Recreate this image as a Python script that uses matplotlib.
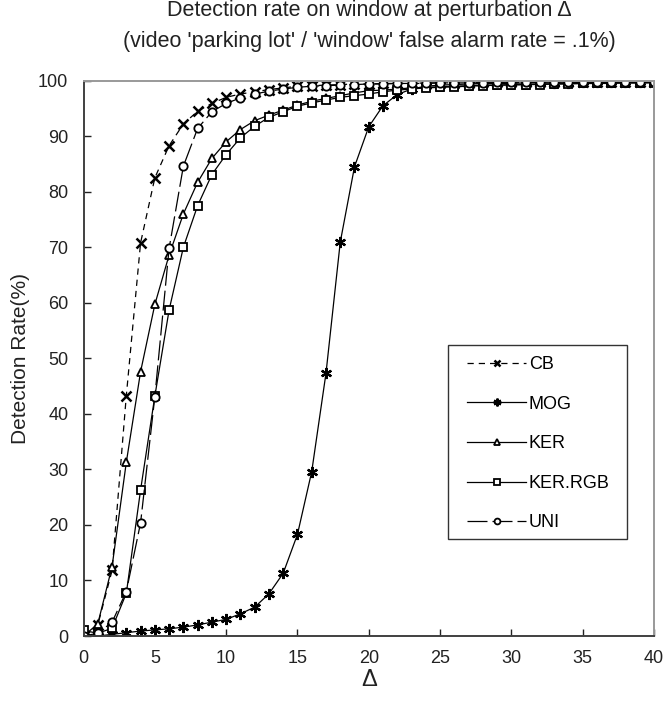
import matplotlib
matplotlib.use("Agg")
import matplotlib.pyplot as plt
from matplotlib.patches import Rectangle

plt.rcParams['font.family'] = ['Liberation Sans', 'DejaVu Sans']

delta = list(range(0, 41))

cb = [0, 2.0, 11.8, 43.3, 70.8, 82.5, 88.3, 92.2, 94.5, 95.9, 97.0, 97.6, 98.0, 98.4, 98.7,
      99.0, 99.1, 99.2, 99.3, 99.4, 99.4, 99.5, 99.5, 99.5, 99.6, 99.6, 99.6, 99.6, 99.7, 99.7,
      99.7, 99.7, 99.7, 99.8, 99.8, 99.8, 99.8, 99.8, 99.8, 99.8, 99.8]
mog = [0, 0, 0.3, 0.6, 0.9, 1.1, 1.3, 1.6, 2.0, 2.5, 3.0, 4.0, 5.2, 7.6, 11.3, 18.3, 29.6,
       47.3, 70.9, 84.5, 91.7, 95.5, 97.5, 98.5, 99.0, 99.2, 99.3, 99.4, 99.5, 99.5, 99.5,
       99.6, 99.6, 99.6, 99.6, 99.7, 99.7, 99.7, 99.7, 99.7, 99.7]
ker = [0, 2.2, 12.5, 31.3, 47.6, 59.7, 68.6, 76.0, 81.7, 86.0, 89.0, 91.2, 92.8, 93.8, 94.7,
       95.6, 96.3, 96.8, 97.3, 97.8, 98.2, 98.3, 98.5, 98.7, 98.8, 98.9, 99.0, 99.1, 99.2,
       99.2, 99.3, 99.3, 99.4, 99.4, 99.5, 99.5, 99.5, 99.6, 99.6, 99.6, 99.7]
ker_rgb = [1.0, 0.5, 1.4, 7.7, 26.3, 43.2, 58.7, 70.0, 77.5, 83.1, 86.7, 89.7, 91.8, 93.4,
           94.4, 95.4, 96.0, 96.5, 97.0, 97.3, 97.6, 98.0, 98.3, 98.5, 98.7, 98.8, 98.9, 99.0,
           99.1, 99.2, 99.2, 99.3, 99.3, 99.4, 99.4, 99.5, 99.5, 99.5, 99.6, 99.6, 99.6]
uni = [0, 0.5, 2.5, 8.0, 20.4, 43.1, 69.8, 84.6, 91.4, 94.4, 95.9, 96.9, 97.6, 98.1, 98.5,
       98.8, 99.0, 99.1, 99.2, 99.3, 99.4, 99.4, 99.5, 99.5, 99.5, 99.6, 99.6, 99.6, 99.6,
       99.7, 99.7, 99.7, 99.7, 99.7, 99.8, 99.8, 99.8, 99.8, 99.8, 99.8, 99.8]

labels = ['CB', 'MOG', 'KER', 'KER.RGB', 'UNI']
title1 = "Detection rate on window at perturbation Δ"
title2 = "(video 'parking lot' / 'window' false alarm rate = .1%)"

fig = plt.figure(figsize=(6.63, 7.12), dpi=100)
ax = fig.add_axes([0.126, 0.1067, 0.8604, 0.78])

lw = 0.9
tc = '#222222'
ax.plot(delta, cb, color='black', lw=lw, linestyle=(0, (5, 4)), marker='x', ms=6.5,
        mew=1.8, label=labels[0])
ax.plot(delta, mog, color='black', lw=lw, linestyle='-', marker=(6, 2, 0), ms=8,
        mew=1.6, label=labels[1])
ax.plot(delta, ker, color='black', lw=lw, linestyle='-', marker='^', ms=6,
        mew=1.3, mfc='white', label=labels[2])
ax.plot(delta, ker_rgb, color='black', lw=lw, linestyle='-', marker='s', ms=6,
        mew=1.3, mfc='white', label=labels[3])
ax.plot(delta, uni, color='black', lw=lw, linestyle=(0, (16, 4)), marker='o', ms=6,
        mew=1.3, mfc='white', label=labels[4])

ax.set_xlim(0, 40)
ax.set_ylim(0, 100)
ax.set_xticks(range(0, 41, 5))
ax.set_yticks(range(0, 101, 10))
ax.tick_params(direction='in', length=5, width=1, labelsize=13, colors=tc)
ax.tick_params(axis='y', pad=11)
ax.tick_params(axis='x', pad=10)

ax.spines['left'].set_color('#404040')
ax.spines['bottom'].set_color('#404040')
ax.spines['top'].set_color('#999999')
ax.spines['right'].set_color('#999999')
for s in ax.spines.values():
    s.set_linewidth(1.4)

ax.set_ylabel('Detection Rate(%)', fontsize=15, color=tc)
ax.yaxis.set_label_coords(-0.094, 0.5)
ax.set_xlabel('Δ', fontsize=17, color=tc, va='top')
ax.xaxis.set_label_coords(0.5, -0.060)

fig.text(369 / 663, 1 - 16 / 712, title1, fontsize=15.5, color=tc, ha='center', va='baseline')
fig.text(369 / 663, 1 - 47 / 712, title2, fontsize=15.5, color=tc, ha='center', va='baseline')

# legend box
ax.add_patch(Rectangle((0.639, 0.1747), 0.952 - 0.639, 0.524 - 0.1747, transform=ax.transAxes,
                       fill=True, facecolor='white', edgecolor='#333333', lw=1.0, zorder=4))
leg = ax.legend(loc='upper left', bbox_to_anchor=(0.672, 0.504), fontsize=13,
                frameon=False, labelspacing=1.25, handlelength=3.3, handletextpad=0.12,
                borderpad=0, markerscale=0.7, borderaxespad=0)
leg.set_zorder(5)

fig.savefig('out.png', dpi=100)
